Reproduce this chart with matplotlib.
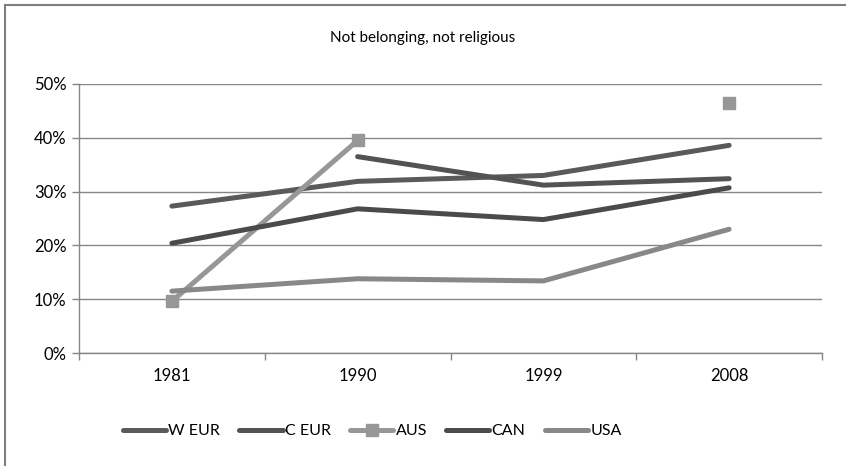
import matplotlib.pyplot as plt
import matplotlib.lines as mlines
import numpy as np

years = ['1981', '1990', '1999', '2008']
w_eur = [27.3, 31.9, 33.0, 38.6]
c_eur = [np.nan, 36.5, 31.2, 32.4]
aus = [9.6, 39.5, np.nan, 46.4]
can = [20.4, 26.8, 24.8, 30.7]
usa = [11.5, 13.8, 13.4, 23.0]

plt.rcParams['font.family'] = ['Lato', 'DejaVu Sans']

fig = plt.figure(figsize=(8.46, 4.66), dpi=100)
ax = fig.add_axes([79/846, 1-353/466, (822-79)/846, (353-84)/466])

x = np.arange(len(years))
ax.plot(x, np.array(w_eur)/100, color='#5a5a5a', lw=3.6, solid_capstyle='round', label='W EUR')
ax.plot(x, np.array(c_eur)/100, color='#535353', lw=3.6, solid_capstyle='round', label='C EUR')
ax.plot(x, np.array(aus)/100, color='#979797', lw=3.6, marker='s', ms=9,
        solid_capstyle='round', label='AUS')
ax.plot(x, np.array(can)/100, color='#4b4b4b', lw=3.6, solid_capstyle='round', label='CAN')
ax.plot(x, np.array(usa)/100, color='#888888', lw=3.6, solid_capstyle='round', label='USA')

ax.set_xlim(-0.5, 3.5)
ax.set_ylim(0, 0.5)
ax.set_yticks(np.arange(0, 0.51, 0.1))
ax.set_yticklabels(['%d%%' % v for v in range(0, 51, 10)])
ax.set_xticks(x)
ax.set_xticklabels(years)
ax.set_xticks(np.arange(-0.5, 3.6, 1), minor=True)
ax.tick_params(axis='x', which='major', length=0, pad=11, labelsize=12)
ax.tick_params(axis='x', which='minor', length=5, width=1, color='#868686', direction='out')
ax.tick_params(axis='y', length=5, width=1, color='#868686', labelsize=12, pad=4)
ax.grid(axis='y', color='#868686', lw=1)
ax.set_axisbelow(True)
for s in ['top', 'right']:
    ax.spines[s].set_visible(False)
for s in ['left', 'bottom']:
    ax.spines[s].set_color('#868686')
    ax.spines[s].set_linewidth(1)

fig.text(0.5, 1-38/466, 'Not belonging, not religious', ha='center', va='center', fontsize=11)

fig.legend(loc='center', bbox_to_anchor=(0.44, 1-431/466), ncol=5, frameon=False,
           fontsize=11.5, handlelength=2.7, handletextpad=0.15, columnspacing=1.2)

# outer chart frame: only left and top edges are visible in the source crop
frame_c = '#7f7f7f'
fig.add_artist(mlines.Line2D([4.5/846, 4.5/846], [0, 1-4.5/466], transform=fig.transFigure,
                             color=frame_c, lw=1.5))
fig.add_artist(mlines.Line2D([4.5/846, 1], [1-4.5/466, 1-4.5/466], transform=fig.transFigure,
                             color=frame_c, lw=1.5))

fig.savefig('out.png', dpi=100)
